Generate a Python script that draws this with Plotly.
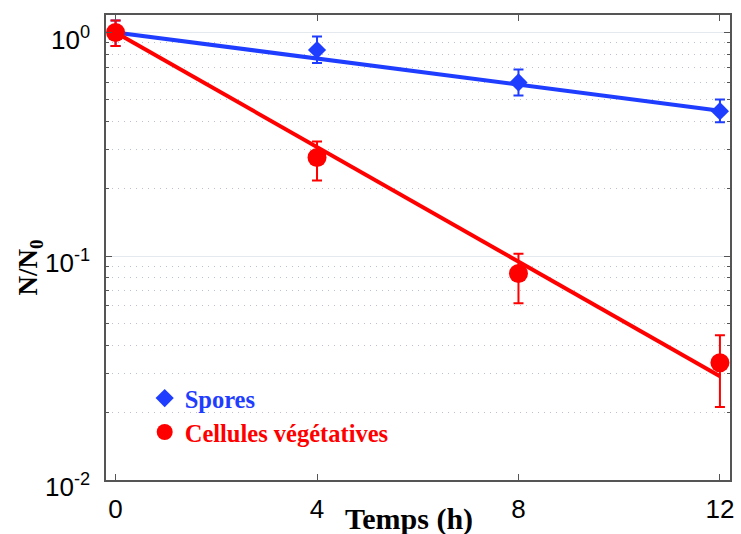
import plotly.graph_objects as go

# ---- data ----
time_h = [0, 4, 8, 12]
spores = [1.0, 0.835, 0.598, 0.445]
spores_err_plus = [0.13, 0.125, 0.085, 0.057]
spores_err_minus = [0.13, 0.105, 0.075, 0.048]

cellules = [1.0, 0.276, 0.0837, 0.0334]
cellules_err_plus = [0.13, 0.050, 0.019, 0.011]
cellules_err_minus = [0.13, 0.058, 0.022, 0.0122]

fit_x = [0, 12]
spores_fit = [1.0, 0.447]
cellules_fit = [1.0, 0.0291]

x_ticks = [0, 4, 8, 12]
y_tickvals = [1, 0.1, 0.01]
y_ticktext = ["10<sup>0</sup>", "10<sup>-1</sup>", "10<sup>-2</sup>"]

BLUE = "#1f3dff"
RED = "#ff0000"

fig = go.Figure()

fig.add_trace(go.Scatter(x=fit_x, y=spores_fit, mode="lines",
                         line=dict(color=BLUE, width=4), showlegend=False, hoverinfo="skip"))
fig.add_trace(go.Scatter(x=fit_x, y=cellules_fit, mode="lines",
                         line=dict(color=RED, width=4), showlegend=False, hoverinfo="skip"))

fig.add_trace(go.Scatter(
    x=time_h, y=spores, mode="markers", name="<b>Spores</b>",
    marker=dict(symbol="diamond", size=14, color=BLUE),
    error_y=dict(type="data", array=spores_err_plus, arrayminus=spores_err_minus,
                 color=BLUE, thickness=2, width=5),
    legend="legend"))
fig.add_trace(go.Scatter(
    x=time_h, y=cellules, mode="markers", name="<b>Cellules végétatives</b>",
    marker=dict(symbol="circle", size=19, color=RED),
    error_y=dict(type="data", array=cellules_err_plus, arrayminus=cellules_err_minus,
                 color=RED, thickness=2, width=5),
    legend="legend2"))

axis_color = "#555555"

fig.update_layout(
    width=741, height=534,
    margin=dict(l=106, r=7, t=15, b=54),
    paper_bgcolor="white", plot_bgcolor="white",
    showlegend=True,
    legend=dict(x=0.062, y=0.176, xanchor="left", yanchor="middle",
                bgcolor="rgba(0,0,0,0)", borderwidth=0, itemwidth=30,
                font=dict(family="Liberation Serif", size=24.5, color=BLUE)),
    legend2=dict(x=0.062, y=0.103, xanchor="left", yanchor="middle",
                 bgcolor="rgba(0,0,0,0)", borderwidth=0, itemwidth=30,
                 font=dict(family="Liberation Serif", size=24.5, color=RED)),
    xaxis=dict(range=[-0.19, 12.2], tickvals=x_ticks, ticks="inside", ticklen=6,
               tickcolor=axis_color, showline=True, linecolor=axis_color, linewidth=1.5,
               mirror="ticks", showgrid=False, zeroline=False, ticklabelstandoff=5,
               tickfont=dict(family="Liberation Sans", size=26, color="black")),
    yaxis=dict(type="log", range=[-2, 0.078], tickvals=y_tickvals, ticktext=y_ticktext,
               ticks="inside", ticklen=6, tickcolor=axis_color, showline=True,
               linecolor=axis_color, linewidth=1.5, mirror="ticks",
               showgrid=True, gridcolor="#e3e9ef", gridwidth=1, zeroline=False,
               ticklabelstandoff=9, ticklabelshift=7,
               tickfont=dict(family="Liberation Sans", size=26, color="black"),
               minor=dict(dtick="D1", ticks="inside", ticklen=3, tickcolor=axis_color,
                          showgrid=True, gridcolor="#b9c2d0", griddash="1px,5px", gridwidth=1)),
    annotations=[
        dict(text="<b>Temps (h)</b>", x=0.486, y=-0.084, xref="paper", yref="paper",
             xanchor="center", yanchor="middle", showarrow=False,
             font=dict(family="Liberation Serif", size=30, color="black")),
        dict(text="<b>N/N<sub>0</sub></b>", x=-0.121, y=0.458, xref="paper", yref="paper",
             xanchor="center", yanchor="middle", showarrow=False, textangle=-90,
             font=dict(family="Liberation Serif", size=27, color="black")),
    ],
)

fig.write_html("out.html", post_script="document.body.style.margin='0px';",
               config={"displayModeBar": False})
